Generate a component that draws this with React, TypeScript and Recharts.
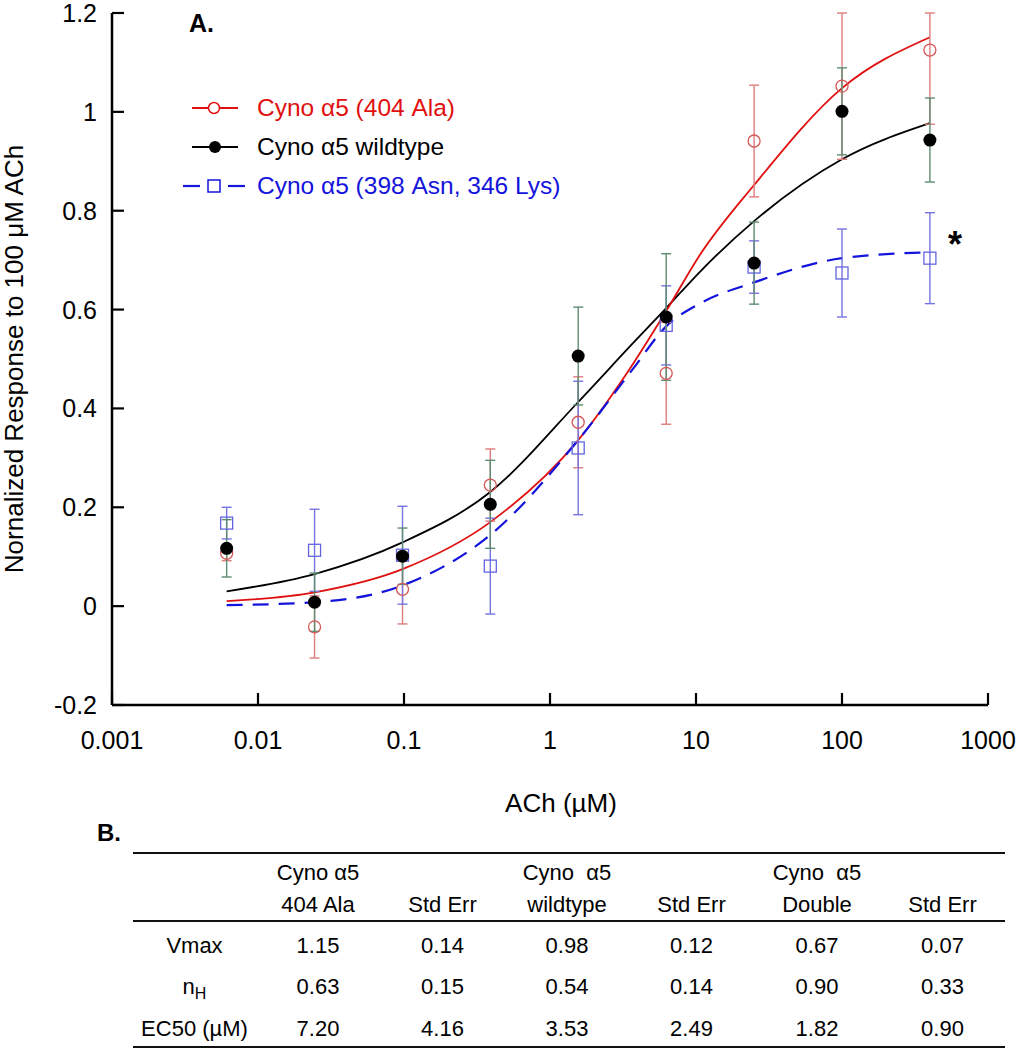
import { ComposedChart, Line, Scatter, ErrorBar, XAxis, YAxis, Legend, Label } from "recharts";

const FONT = '"Liberation Sans", Arial, Helvetica, sans-serif';

// ACh doses (µM), 4-fold dilution series
const DOSES = [0.0061, 0.0244, 0.0977, 0.39, 1.56, 6.25, 25, 100, 400];
const FIT_X = [0.0061, 0.0244, 0.0977, 0.39, 1.56, 3.7, 6.25, 10.6, 25, 100, 400];

// Cyno a5 (404 Ala)
const ALA_MEAN = [0.107, -0.042, 0.034, 0.245, 0.372, 0.471, 0.941, 1.052, 1.125];
const ALA_ERR = [0.015, 0.063, 0.07, 0.073, 0.092, 0.103, 0.113, 0.148, 0.075];
const ALA_FIT = [0.01, 0.028, 0.075, 0.17, 0.336, 0.49, 0.597, 0.71, 0.852, 1.048, 1.151];

// Cyno a5 wildtype
const WT_MEAN = [0.117, 0.008, 0.101, 0.206, 0.506, 0.585, 0.694, 1.001, 0.943];
const WT_ERR = [0.058, 0.059, 0.057, 0.089, 0.099, 0.128, 0.083, 0.088, 0.085];
const WT_FIT = [0.03, 0.065, 0.129, 0.231, 0.413, 0.532, 0.603, 0.676, 0.779, 0.904, 0.977];

// Cyno a5 (398 Asn, 346 Lys)
const DBL_MEAN = [0.168, 0.113, 0.103, 0.081, 0.32, 0.568, 0.686, 0.674, 0.704];
const DBL_ERR = [0.032, 0.083, 0.099, 0.097, 0.135, 0.08, 0.053, 0.089, 0.092];
const DBL_FIT = [0.002, 0.008, 0.042, 0.144, 0.336, 0.48, 0.566, 0.612, 0.655, 0.704, 0.716];

const X_TICKS = [0.001, 0.01, 0.1, 1, 10, 100, 1000];
const Y_TICKS = [-0.2, 0, 0.2, 0.4, 0.6, 0.8, 1, 1.2];

const STAR = [{ x: 594, y: 0.746 }];

const LEGEND_NAMES = ["Cyno \u03b15 (404 Ala)", "Cyno \u03b15 wildtype", "Cyno \u03b15 (398 Asn, 346 Lys)"];

const TABLE_HEAD_1 = ["", "Cyno \u03b15", "", "Cyno  \u03b15", "", "Cyno  \u03b15", ""];
const TABLE_HEAD_2 = ["", "404 Ala", "Std Err", "wildtype", "Std Err", "Double", "Std Err"];
const VMAX_ROW = ["1.15", "0.14", "0.98", "0.12", "0.67", "0.07"];
const NH_ROW = ["0.63", "0.15", "0.54", "0.14", "0.90", "0.33"];
const EC50_ROW = ["7.20", "4.16", "3.53", "2.49", "1.82", "0.90"];

const points = (means: number[], errs: number[]) =>
  DOSES.map((x, i) => ({ x, y: means[i], err: errs[i] }));
const curve = (vals: number[]) => FIT_X.map((x, i) => ({ x, y: vals[i] }));

// the last 404 Ala bar runs off the top of the plot, so its upper arm stops at 1.2
const alaPts = DOSES.map((x, i) => ({
  x,
  y: ALA_MEAN[i],
  err: i === DOSES.length - 1 ? [0.15, ALA_ERR[i]] : ALA_ERR[i],
}));
const wtPts = points(WT_MEAN, WT_ERR);
const dblPts = points(DBL_MEAN, DBL_ERR);

const RED = "#e01010";
const BLUE = "#1414dc";

const XTick = ({ x, y, payload }: any) => (
  <g>
    <line x1={x} x2={x} y1={y} y2={y - 12} stroke="#000" strokeWidth={2.2} />
    <text x={x} y={y + 44} textAnchor="middle" fontSize={25} fontFamily={FONT} fill="#000">
      {String(payload.value)}
    </text>
  </g>
);

const YTick = ({ x, y, payload }: any) => (
  <g>
    <line x1={x} x2={x + 12} y1={y} y2={y} stroke="#000" strokeWidth={2.2} />
    <text x={x - 15} y={y + 9} textAnchor="end" fontSize={25} fontFamily={FONT} fill="#000">
      {String(payload.value)}
    </text>
  </g>
);

const LegendBox = () => (
  <div style={{ fontFamily: FONT, fontSize: 24.5 }}>
    {LEGEND_NAMES.map((name, i) => (
      <div key={name} style={{ display: "flex", alignItems: "center", height: 39 }}>
        <svg width={77} height={20}>
          {i === 0 && (
            <g>
              <line x1={12} x2={58} y1={10} y2={10} stroke={RED} strokeWidth={2} />
              <circle cx={34} cy={10} r={5.5} fill="#fff" stroke={RED} strokeWidth={1.5} />
            </g>
          )}
          {i === 1 && (
            <g>
              <line x1={12} x2={58} y1={10} y2={10} stroke="#000" strokeWidth={2} />
              <circle cx={35} cy={10} r={6} fill="#000" />
            </g>
          )}
          {i === 2 && (
            <g>
              <line x1={3} x2={20} y1={10} y2={10} stroke={BLUE} strokeWidth={2.2} />
              <rect x={28} y={4} width={12} height={12} fill="#fff" stroke={BLUE} strokeWidth={1.5} />
              <line x1={48} x2={65} y1={10} y2={10} stroke={BLUE} strokeWidth={2.2} />
            </g>
          )}
        </svg>
        <span style={{ color: i === 0 ? RED : i === 1 ? "#000" : BLUE, whiteSpace: "nowrap" }}>{name}</span>
      </div>
    ))}
  </div>
);

const COL_LEFT = [133, 256, 380, 505, 629, 754, 880];
const COL_W = [123, 124, 125, 124, 125, 126, 125];

const Row = ({ cells, y }: { cells: any[]; y: number }) => (
  <>
    {cells.map((c, i) => (
      <div
        key={i}
        style={{
          position: "absolute",
          left: COL_LEFT[i],
          width: COL_W[i],
          top: y - 14,
          height: 28,
          lineHeight: "28px",
          textAlign: "center",
          whiteSpace: "pre",
        }}
      >
        {c}
      </div>
    ))}
  </>
);

const Rule = ({ y }: { y: number }) => (
  <div style={{ position: "absolute", left: 133, width: 872, top: y - 1, height: 2, background: "#111" }} />
);

export default function App() {
  return (
    <div style={{ position: "absolute", left: 0, top: 0, width: 1025, height: 1050, background: "#fff", fontFamily: FONT, color: "#000" }}>
      <ComposedChart width={1025} height={830} margin={{ top: 13, right: 37, left: 0, bottom: 0 }}>
        <XAxis
          dataKey="x"
          type="number"
          scale="log"
          domain={[0.001, 1000]}
          ticks={X_TICKS}
          interval={0}
          allowDataOverflow
          height={125}
          tickLine={false}
          tickSize={0}
          tickMargin={0}
          tick={(p: any) => <XTick {...p} />}
          axisLine={{ stroke: "#000", strokeWidth: 2.5 }}
        >
          <Label value={"ACh (\u00b5M)"} position="insideBottom" offset={18} dx={11} style={{ fontSize: 26, fontFamily: FONT, fill: "#000" }} />
        </XAxis>
        <YAxis
          dataKey="y"
          type="number"
          domain={[-0.2, 1.2]}
          ticks={Y_TICKS}
          interval={0}
          allowDataOverflow
          width={112}
          tickLine={false}
          tickSize={0}
          tickMargin={0}
          tick={(p: any) => <YTick {...p} />}
          axisLine={{ stroke: "#000", strokeWidth: 2.5 }}
        >
          <Label
            value={"Nornalized Response to 100 \u03bcM ACh"}
            angle={-90}
            position="insideLeft"
            offset={14}
            style={{ fontSize: 26, fontFamily: FONT, fill: "#000", textAnchor: "middle" }}
          />
        </YAxis>
        <Legend
          layout="vertical"
          align="center"
          verticalAlign="middle"
          content={() => <LegendBox />}
          wrapperStyle={{ top: 88, left: 180, width: 440, height: 120 }}
        />
        <Line data={curve(WT_FIT)} dataKey="y" type="monotone" stroke="#000" strokeWidth={1.8} dot={false} activeDot={false} isAnimationActive={false} />
        <Line data={curve(ALA_FIT)} dataKey="y" type="monotone" stroke={RED} strokeWidth={1.8} dot={false} activeDot={false} isAnimationActive={false} />
        <Line data={curve(DBL_FIT)} dataKey="y" type="monotone" stroke={BLUE} strokeWidth={2.2} strokeDasharray="16 10" dot={false} activeDot={false} isAnimationActive={false} />
        <Scatter
          data={alaPts}
          dataKey="y"
          isAnimationActive={false}
          shape={(p: any) => <circle cx={p.cx} cy={p.cy} r={6} fill="none" stroke="#d65656" strokeWidth={1.3} />}
        >
          <ErrorBar dataKey="err" direction="y" width={5} stroke="#de7c7c" strokeWidth={1.4} />
        </Scatter>
        <Scatter
          data={dblPts}
          dataKey="y"
          isAnimationActive={false}
          shape={(p: any) => <rect x={p.cx - 6} y={p.cy - 6} width={12} height={12} fill="none" stroke="#6464e0" strokeWidth={1.3} />}
        >
          <ErrorBar dataKey="err" direction="y" width={5} stroke="#7474e2" strokeWidth={1.4} />
        </Scatter>
        <Scatter
          data={wtPts}
          dataKey="y"
          isAnimationActive={false}
          shape={(p: any) => <circle cx={p.cx} cy={p.cy} r={6.5} fill="#000" />}
        >
          <ErrorBar dataKey="err" direction="y" width={5} stroke="#5e8c70" strokeWidth={1.4} />
        </Scatter>
        <Scatter
          data={STAR}
          dataKey="y"
          isAnimationActive={false}
          shape={(p: any) => (
            <text x={p.cx} y={p.cy + 20} textAnchor="middle" fontSize={36} fontWeight="bold" fontFamily={FONT} fill="#000">
              *
            </text>
          )}
        />
      </ComposedChart>

      <div style={{ position: "absolute", left: 189, top: 9, fontSize: 25, fontWeight: "bold" }}>A.</div>

      <div style={{ position: "absolute", left: 97, top: 819, fontSize: 24, fontWeight: "bold" }}>B.</div>

      <div style={{ position: "absolute", left: 0, top: 0, width: 1025, height: 1050, fontSize: 22 }}>
        <Rule y={853} />
        <Row cells={TABLE_HEAD_1} y={873} />
        <Row cells={TABLE_HEAD_2} y={905} />
        <Rule y={921} />
        <Row cells={["Vmax", ...VMAX_ROW]} y={946} />
        <Row cells={[<span key="nh">n<sub style={{ fontSize: 16 }}>H</sub></span>, ...NH_ROW]} y={987} />
        <Row cells={["EC50 (\u00b5M)", ...EC50_ROW]} y={1029} />
        <Rule y={1047} />
      </div>
    </div>
  );
}
